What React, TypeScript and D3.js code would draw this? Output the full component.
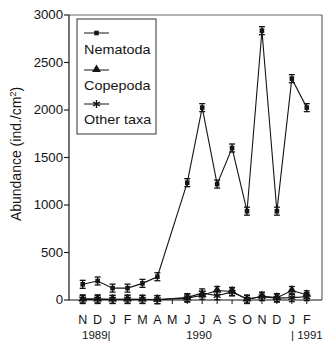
import React from 'react';
import * as d3 from 'd3';

// sampling months, Nov 1989 .. Feb 1991
const months = ['N', 'D', 'J', 'F', 'M', 'A', 'M', 'J', 'J', 'A', 'S', 'O', 'N', 'D', 'J', 'F'];
const nematoda = [165, 200, 125, 125, 175, 245, null, 1235, 2025, 1220, 1600, 935, 2835, 935, 2330, 2025];
const copepoda = [5, 5, 5, 5, 5, 3, null, 20, 50, 100, 90, 5, 40, 25, 100, 55];
const otherTaxa = [12, 12, 8, 10, 8, 5, null, 25, 75, 45, 85, 10, 35, 20, 25, 35];
const yTicks = [0, 500, 1000, 1500, 2000, 2500, 3000];
const seriesNames = ['Nematoda', 'Copepoda', 'Other taxa'];

const ink = '#151515';
const font = 'Arial, "Liberation Sans", Helvetica, sans-serif';

const x = d3.scaleLinear().domain([-0.917, 16.02]).range([69, 322]);
const y = d3.scaleLinear().domain([0, 3000]).range([300, 15]);

const toPoints = (vals: (number | null)[]) =>
  vals.map((v, i) => ({ i, v })).filter(d => d.v != null) as { i: number; v: number }[];

const line = d3.line<{ i: number; v: number }>()
  .x(d => x(d.i))
  .y(d => y(d.v));

const triangle = d3.symbol().type(d3.symbolTriangle).size(34)()!;
const asterisk = d3.symbol().type(d3.symbolAsterisk).size(42)()!;

function Marker({ kind, cx, cy, bars }: { kind: number; cx: number; cy: number; bars: boolean }) {
  const caps = bars ? (
    <g stroke={ink} strokeWidth={1.3}>
      <line x1={cx} x2={cx} y1={cy - 4} y2={cy + 4} />
      <line x1={cx - 3} x2={cx + 3} y1={cy - 4} y2={cy - 4} />
      <line x1={cx - 3} x2={cx + 3} y1={cy + 4} y2={cy + 4} />
    </g>
  ) : null;
  if (kind === 0) {
    return (
      <g>
        {caps}
        <rect x={cx - 2.3} y={cy - 2.3} width={4.6} height={4.6} fill={ink} />
      </g>
    );
  }
  if (kind === 1) {
    return (
      <g>
        {caps}
        <path d={triangle} transform={`translate(${cx},${cy - 0.5})`} fill={ink} />
      </g>
    );
  }
  return (
    <g>
      {caps}
      <path d={asterisk} transform={`translate(${cx},${cy})`} fill="none" stroke={ink} strokeWidth={1.4} />
    </g>
  );
}

export default function App() {
  const series = [nematoda, copepoda, otherTaxa].map(toPoints);
  const legendSym = [33, 70, 104];
  const legendText = [54, 90, 124];

  return (
    <svg width={330} height={343} style={{ position: 'absolute', left: 0, top: 0, background: '#fff' }}
      fontFamily={font}>
      {/* frame */}
      <line x1={69} x2={322} y1={15} y2={15} stroke="#666" strokeWidth={1} />
      <line x1={322} x2={322} y1={15} y2={300} stroke="#444" strokeWidth={1} />
      <line x1={69} x2={69} y1={15} y2={300} stroke={ink} strokeWidth={1.2} />
      <line x1={69} x2={322} y1={300} y2={300} stroke={ink} strokeWidth={1.2} />

      {/* y axis */}
      {yTicks.map(t => (
        <g key={t}>
          <line x1={64} x2={69} y1={y(t)} y2={y(t)} stroke={ink} strokeWidth={1.1} />
          <text transform={`translate(63,${y(t) + 4.2}) scale(1.1,1)`} textAnchor="end" fontSize={12} fill={ink}>
            {t}
          </text>
        </g>
      ))}
      <text transform="translate(21,154) rotate(-90)" textAnchor="middle" fontSize={14} fill={ink}>
        Abundance (ind./cm<tspan dy={-5} fontSize={9}>2</tspan><tspan dy={5}>)</tspan>
      </text>

      {/* x axis */}
      {months.map((m, i) => (
        <g key={i}>
          <line x1={x(i)} x2={x(i)} y1={300} y2={304} stroke={ink} strokeWidth={1} />
          <text x={x(i)} y={324} textAnchor="middle" fontSize={12.5} fill={ink}>{m}</text>
        </g>
      ))}
      <text x={82} y={339} fontSize={11.5} fill={ink}>1989|</text>
      <text x={199} y={339} textAnchor="middle" fontSize={11.5} fill={ink}>1990</text>
      <text x={291} y={339} fontSize={11.5} fill={ink}>| 1991</text>

      {/* series */}
      {series.map((pts, k) => (
        <g key={k}>
          <path d={line(pts)!} fill="none" stroke={ink} strokeWidth={1.1} />
          {pts.map(p => (
            <Marker key={p.i} kind={k} cx={x(p.i)} cy={y(p.v)} bars={true} />
          ))}
        </g>
      ))}

      {/* legend */}
      <rect x={77} y={19} width={79} height={115} fill="#fff" stroke="#333" strokeWidth={1} />
      {seriesNames.map((name, k) => (
        <g key={name}>
          <line x1={84} x2={109} y1={legendSym[k]} y2={legendSym[k]} stroke={ink} strokeWidth={1} />
          <Marker kind={k} cx={96.5} cy={legendSym[k]} bars={false} />
          <text transform={`translate(84,${legendText[k]}) scale(1.2,1)`} fontSize={12} fill={ink}>{name}</text>
        </g>
      ))}
    </svg>
  );
}
